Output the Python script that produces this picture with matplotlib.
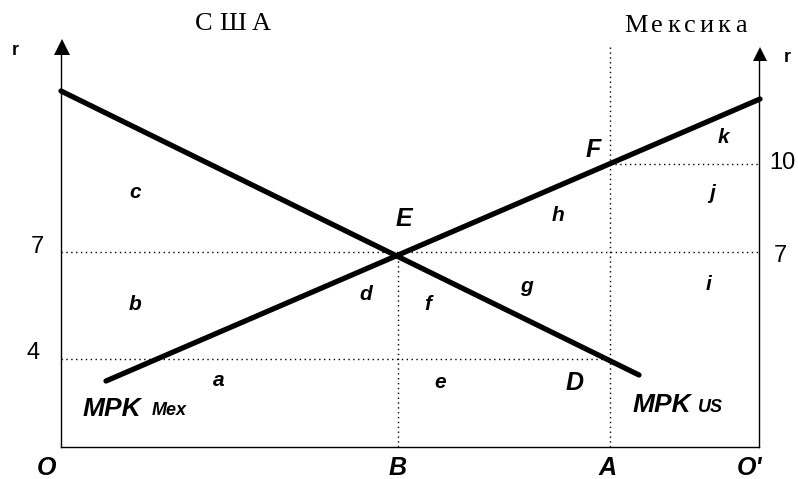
import matplotlib
matplotlib.use("Agg")
import matplotlib.pyplot as plt
from matplotlib.transforms import offset_copy

# ---- data (diagram coordinates: x from O, y from bottom axis, in plot units) ----
width_total = 698          # O -> O'
mpk_us_x = [0, 578]
mpk_us_y = [356, 72]
mpk_mex_x = [45, 699]
mpk_mex_y = [66, 348]

point_B = 337
point_A = 549
r_levels = ["4", "7", "10"]
r_heights = [88, 195, 283]

bottom_labels = ["O", "B", "A", "O'"]
bottom_x = [-14, 337, 547, 689]

area_labels = ["a", "b", "c", "d", "e", "f", "g", "h", "i", "j", "k"]
area_x = [158, 74, 74, 305, 379, 367, 465, 497, 648, 651, 662]
area_y = [67, 142, 255, 152, 64, 143, 160, 232, 162, 254, 310]

point_labels = ["E", "F", "D"]
point_x = [343, 532, 514]
point_y = [228, 297, 64]

fig = plt.figure(figsize=(7.98, 4.79), dpi=100)
ax = fig.add_axes([0, 0, 1, 1])
ax.set_xlim(-61, 737)
ax.set_ylim(-32, 447)
ax.axis("off")

lw_thick = 3.8
ax.plot(mpk_us_x, mpk_us_y, color="black", lw=lw_thick, solid_capstyle="round")
ax.plot(mpk_mex_x, mpk_mex_y, color="black", lw=lw_thick, solid_capstyle="round")

# axes
ax.plot([0, 0], [0, 400], color="black", lw=1.0)
ax.plot([width_total, width_total], [0, 393], color="black", lw=1.0)
ax.plot([0, width_total], [0, 0], color="black", lw=1.0)
ax.plot([0.5], [400], marker="^", color="black", markersize=11, markeredgewidth=0)
ax.plot([width_total + 1], [393.5], marker="^", color="black", markersize=10, markeredgewidth=0)

dot = dict(color="black", lw=1.0, linestyle=(0, (1, 2.5)))
# horizontal guides
ax.plot([0, width_total], [r_heights[1]] * 2, **dot)
ax.plot([0, point_A], [r_heights[0]] * 2, **dot)
ax.plot([point_A, width_total], [r_heights[2]] * 2, **dot)
# vertical guides
ax.plot([point_B, point_B], [0, r_heights[1]], **dot)
ax.plot([point_A, point_A], [0, 402], **dot)

sans = "Liberation Sans"
serif = "Liberation Serif"

renderer = fig.canvas.get_renderer()


def spaced_text(xc, y, s, spacing, **kw):
    """Draw string s centred at (xc, y) with extra letter spacing (pixels)."""
    widths = []
    for ch in s:
        t = ax.text(0, 0, ch, **kw)
        widths.append(t.get_window_extent(renderer).width)
        t.remove()
    total = sum(widths) + spacing * (len(s) - 1)
    start = -total / 2
    off = start
    for ch, w in zip(s, widths):
        tr = offset_copy(ax.transData, fig=fig, x=off * 72 / fig.dpi, y=0, units="points")
        ax.text(xc, y, ch, transform=tr, ha="left", va="center", **kw)
        off += w + spacing


# r labels
ax.text(-46, 397, "r", fontsize=13, fontweight="bold", family=sans, ha="center", va="center")
ax.text(726, 390, "r", fontsize=13, fontweight="bold", family=sans, ha="center", va="center")

# titles
spaced_text(172, 423, "США", 6, fontsize=19, family=serif)
spaced_text(624, 421, "Мексика", 4, fontsize=19, family=serif)

# tick values
ax.text(-24, 200, "7", fontsize=17, family=sans, ha="center", va="center")
ax.text(-28, 94, "4", fontsize=17, family=sans, ha="center", va="center")
ax.text(721, 284, "10", fontsize=17, family=sans, ha="center", va="center")
ax.text(719, 191, "7", fontsize=17, family=sans, ha="center", va="center")

# area letters
for lab, x, y in zip(area_labels, area_x, area_y):
    ax.text(x, y, lab, fontsize=15, fontweight="bold", fontstyle="italic",
            family=sans, ha="center", va="center")
for lab, x, y in zip(point_labels, point_x, point_y):
    ax.text(x, y, lab, fontsize=18, fontweight="bold", fontstyle="italic",
            family=sans, ha="center", va="center")

# bottom labels
for lab, x in zip(bottom_labels, bottom_x):
    ax.text(x, -21, lab, fontsize=18, fontweight="bold", fontstyle="italic",
            family=sans, ha="center", va="center")

# curve labels
ax.text(22, 31, "MPK", fontsize=19, fontweight="bold", fontstyle="italic",
        family=sans, ha="left", va="baseline")
ax.text(91, 32, "Mex", fontsize=13, fontweight="bold", fontstyle="italic",
        family=sans, ha="left", va="baseline")
ax.text(572, 35, "MPK", fontsize=19, fontweight="bold", fontstyle="italic",
        family=sans, ha="left", va="baseline")
ax.text(637, 35, "US", fontsize=13, fontweight="bold", fontstyle="italic",
        family=sans, ha="left", va="baseline")

fig.savefig("out.png", dpi=100)
